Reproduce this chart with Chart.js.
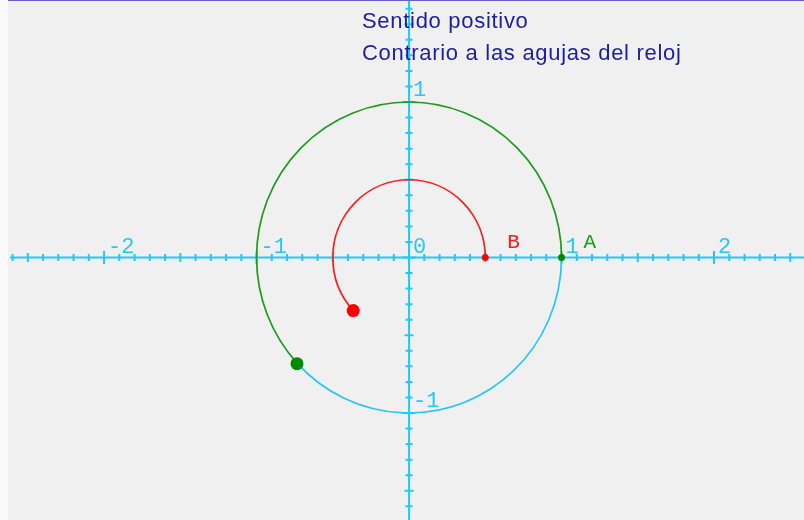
<!DOCTYPE html>
<html lang="es">
<head>
    <meta charset="UTF-8">
    <title>Sentido positivo</title>
    <script src="https://cdn.jsdelivr.net/npm/chart.js"></script>
    <style>
        body { margin: 0; background: #fafafa; }
        #lienzo { position: absolute; left: 8px; top: 0; width: 796px; height: 520px; background: #f0f0f0; }
        #borde { position: absolute; left: 8px; top: 0; width: 796px; height: 1px; background: #6660c4; }
        .titulo { position: absolute; left: 362px; top: 5px; font: 22px "Liberation Sans", Arial, sans-serif;
                  line-height: 32px; letter-spacing: 0.7px; color: #1e1ea0; white-space: nowrap; }
    </style>
</head>
<body>
<div id="lienzo"><canvas id="circulo"></canvas></div>
<div id="borde"></div>
<div class="titulo">Sentido positivo<br>Contrario a las agujas del reloj</div>
<script>
    // rango visible de los ejes
    const xRange = [-2.63, 2.59];
    const yRange = [-1.688, 1.656];

    // etiquetas de los ejes
    const xTickValues = [-2, -1, 0, 1, 2];
    const xTickLabels = ['-2', '-1', '0', '1', '2'];
    const yTickValues = [-1, 1];
    const yTickLabels = ['-1', '1'];

    // arcos recorridos desde el punto inicial (en grados, sentido antihorario)
    const arcNames = ['A', 'B'];
    const arcRadius = [1, 0.5];
    const arcSweep = [223, 223];
    const startX = [1, 0.5];
    const startY = [0, 0];
    const endX = [-0.735, -0.366];
    const endY = [-0.683, -0.341];

    const cyan = '#26c6fa';
    const arcColors = ['#1c9c1c', '#ff1a1a'];
    const dotColors = ['#008a00', '#ff0000'];

    const ejesPlugin = {
        id: 'ejes',
        beforeDatasetsDraw(chart) {
            const { ctx, chartArea, scales: { x, y } } = chart;
            const ox = x.getPixelForValue(0);
            const oy = y.getPixelForValue(0);
            ctx.save();
            ctx.strokeStyle = cyan;
            ctx.lineWidth = 2;
            ctx.beginPath();
            ctx.moveTo(chartArea.left + 2, oy);
            ctx.lineTo(chartArea.right, oy);
            ctx.moveTo(ox, chartArea.top);
            ctx.lineTo(ox, chartArea.bottom);
            ctx.stroke();

            // marcas cada 0.1
            ctx.lineWidth = 2;
            ctx.beginPath();
            for (let i = Math.ceil(x.min * 10); i <= Math.floor(x.max * 10); i++) {
                const px = x.getPixelForValue(i / 10);
                const h = i % 10 === 0 ? 6.5 : (i % 5 === 0 ? 4.5 : 3.5);
                ctx.moveTo(px, oy - h);
                ctx.lineTo(px, oy + h);
            }
            for (let i = Math.ceil(y.min * 10); i <= Math.floor(y.max * 10); i++) {
                const py = y.getPixelForValue(i / 10);
                const h = i % 10 === 0 ? 6.5 : (i % 5 === 0 ? 4.5 : 3.5);
                ctx.moveTo(ox - h, py);
                ctx.lineTo(ox + h, py);
            }
            ctx.stroke();

            ctx.fillStyle = cyan;
            ctx.font = '22px "Liberation Mono", monospace';
            ctx.textBaseline = 'alphabetic';
            xTickValues.forEach((v, i) => {
                ctx.fillText(xTickLabels[i], x.getPixelForValue(v) + 4, oy - 5);
            });
            yTickValues.forEach((v, i) => {
                ctx.fillText(yTickLabels[i], ox + 4, y.getPixelForValue(v) - 6);
            });

            // circunferencia completa (resto en cian) y arcos recorridos
            arcRadius.forEach((r, i) => {
                const rx = x.getPixelForValue(r) - ox;
                const ry = oy - y.getPixelForValue(r);
                const fin = arcSweep[i] * Math.PI / 180;
                ctx.lineWidth = 1.7;
                if (i === 0) {
                    ctx.strokeStyle = cyan;
                    ctx.beginPath();
                    ctx.ellipse(ox, oy, rx, ry, 0, -fin, -2 * Math.PI, true);
                    ctx.stroke();
                }
                ctx.strokeStyle = arcColors[i];
                ctx.beginPath();
                ctx.ellipse(ox, oy, rx, ry, 0, 0, -fin, true);
                ctx.stroke();
            });
            ctx.restore();
        },
        afterDatasetsDraw(chart) {
            const { ctx, scales: { x, y } } = chart;
            ctx.save();
            ctx.font = '21px "Liberation Mono", monospace';
            arcNames.forEach((name, i) => {
                ctx.fillStyle = arcColors[i];
                ctx.fillText(name, x.getPixelForValue(startX[i]) + 22, y.getPixelForValue(startY[i]) - 10);
            });
            ctx.restore();
        }
    };

    const datasets = [];
    arcNames.forEach((name, i) => {
        datasets.push({
            label: name,
            data: [{ x: startX[i], y: startY[i] }],
            backgroundColor: dotColors[i],
            borderWidth: 0,
            pointRadius: 3.5
        });
        datasets.push({
            label: name + ' final',
            data: [{ x: endX[i], y: endY[i] }],
            backgroundColor: dotColors[i],
            borderWidth: 0,
            pointRadius: 6.5
        });
    });

    new Chart(document.getElementById('circulo'), {
        type: 'scatter',
        data: { datasets },
        options: {
            responsive: true,
            maintainAspectRatio: false,
            animation: false,
            layout: { padding: 0, autoPadding: false },
            plugins: { legend: { display: false }, tooltip: { enabled: false } },
            scales: {
                x: { type: 'linear', min: xRange[0], max: xRange[1], display: false },
                y: { type: 'linear', min: yRange[0], max: yRange[1], display: false }
            }
        },
        plugins: [ejesPlugin]
    });
</script>
</body>
</html>
